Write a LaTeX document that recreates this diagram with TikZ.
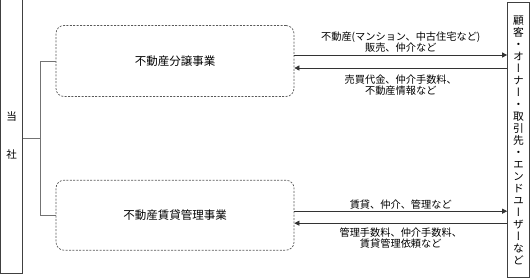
\documentclass[tikz,border=0pt]{standalone}
\usepackage{fontspec}
\setmainfont{Noto Sans CJK JP}
\newfontfamily\tatefont[RawFeature=+vert]{Noto Sans CJK JP}
\usetikzlibrary{arrows.meta,positioning}
\newcommand\gyoukan{\lineskiplimit=-20pt\relax}

\begin{document}
\begin{tikzpicture}[
    x=1pt, y=-1pt,
    sidebox/.style={draw=black!75, line width=0.7pt, inner sep=0pt, align=center,
                    font=\fontsize{10.5}{12}\selectfont\gyoukan},
    jigyou/.style={draw=black!65, dash pattern=on 2pt off 1.4pt, line width=0.7pt,
                   rounded corners=8pt, minimum width=238pt, minimum height=71pt,
                   font=\fontsize{11.5}{13}\selectfont},
    arr/.style={-{Triangle[length=5pt,width=5pt]}, draw=black!80, line width=0.7pt},
    link/.style={draw=black!55, line width=0.8pt},
    lbl/.style={font=\fontsize{10.2}{11}\selectfont\gyoukan, align=center, inner sep=2pt},
    node distance=83pt
]
\useasboundingbox (0,0) rectangle (530,277);

\node[sidebox, minimum width=22.5pt, minimum height=275.5pt] (tousha) at (11.5,136) {当\\[26pt]社};
\node[sidebox, minimum width=22pt, minimum height=275.5pt,
      font=\tatefont\fontsize{10.8}{12}\selectfont\gyoukan] (kokyaku) at (518.5,140)
    {顧\\客\\・\\オ\\ー\\ナ\\ー\\・\\取\\引\\先\\・\\エ\\ン\\ド\\ユ\\ー\\ザ\\ー\\な\\ど};

\node[jigyou] (bunjou) at (175,61) {不動産分譲事業};
\node[jigyou, below=of bunjou, minimum height=70pt] (chintai) {不動産賃貸管理事業};

% 当社から各事業へ
\draw[link] (tousha.east |- 0,138) -- ++(17,0) coordinate (fork);
\draw[link] (bunjou.west) -| (fork) |- (chintai.west);

% 分譲事業
\draw[arr] ([yshift=6pt]bunjou.east) -- node[lbl, above] {不動産(マンション、中古住宅など)\\販売、仲介など} ([yshift=6pt]bunjou.east -| kokyaku.west);
\draw[arr] ([yshift=-7pt]bunjou.east -| kokyaku.west) -- node[lbl, below=5pt] {売買代金、仲介手数料、\\不動産情報など} ([yshift=-7pt]bunjou.east);

% 賃貸管理事業
\draw[arr] ([yshift=4pt]chintai.east) -- node[lbl, above] {賃貸、仲介、管理など} ([yshift=4pt]chintai.east -| kokyaku.west);
\draw[arr] ([yshift=-8pt]chintai.east -| kokyaku.west) -- node[lbl, below=2pt] {管理手数料、仲介手数料、\\賃貸管理依頼など} ([yshift=-8pt]chintai.east);
\end{tikzpicture}
\end{document}
